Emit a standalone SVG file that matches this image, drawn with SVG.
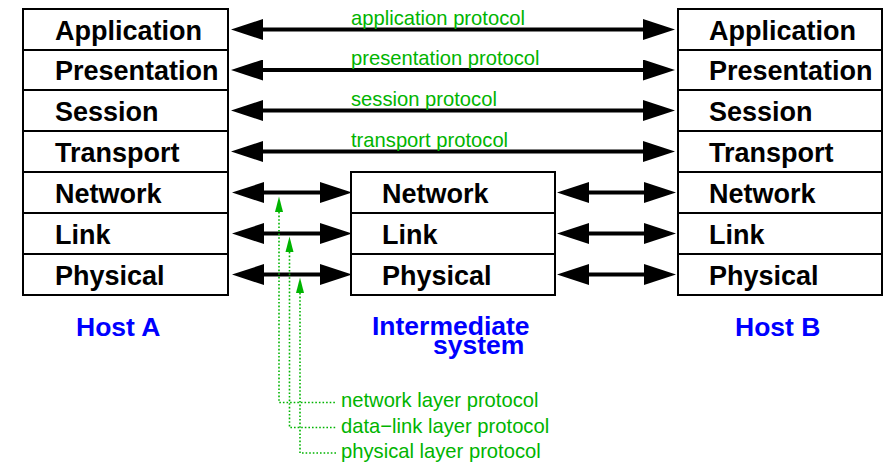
<svg xmlns="http://www.w3.org/2000/svg" width="888" height="464" viewBox="0 0 888 464">
<style>
.box{fill:#fff;stroke:#000;stroke-width:2}
.lbl{font-family:"Liberation Sans",Arial,sans-serif;font-weight:bold;font-size:27px;fill:#000}
.host{font-family:"Liberation Sans",Arial,sans-serif;font-weight:bold;font-size:26.5px;fill:#0000ff}
.g{font-family:"Liberation Sans",Arial,sans-serif;font-size:20.2px;fill:#00b400}
.arr{stroke:#000;stroke-width:4;fill:none;marker-start:url(#ah);marker-end:url(#ah)}
.dot{stroke:#00b400;stroke-width:1.6;fill:none;stroke-dasharray:1.6 2}
</style>
<defs>
<marker id="ah" markerUnits="userSpaceOnUse" markerWidth="32" markerHeight="21" viewBox="0 0 32 21" refX="12" refY="10.5" orient="auto-start-reverse">
<path d="M0,0 L32,10.5 L0,21 z" fill="#000"/>
</marker>
</defs>
<rect width="888" height="464" fill="#fff"/>

<g id="hostA">
<rect class="box" x="23" y="9" width="205" height="41"/>
<rect class="box" x="23" y="50" width="205" height="40"/>
<rect class="box" x="23" y="90" width="205" height="41"/>
<rect class="box" x="23" y="131" width="205" height="41"/>
<rect class="box" x="23" y="172" width="205" height="41"/>
<rect class="box" x="23" y="213" width="205" height="41"/>
<rect class="box" x="23" y="254" width="205" height="41"/>
<text class="lbl" x="55" y="39.5">Application</text>
<text class="lbl" x="55" y="80">Presentation</text>
<text class="lbl" x="55" y="120.5">Session</text>
<text class="lbl" x="55" y="161.5">Transport</text>
<text class="lbl" x="55" y="202.5">Network</text>
<text class="lbl" x="55" y="243.5">Link</text>
<text class="lbl" x="55" y="284.5">Physical</text>
<text class="host" x="76" y="335.5">Host A</text>
</g>

<g id="intermediate">
<rect class="box" x="351" y="172" width="204" height="41"/>
<rect class="box" x="351" y="213" width="204" height="41"/>
<rect class="box" x="351" y="254" width="204" height="41"/>
<text class="lbl" x="382" y="202.5">Network</text>
<text class="lbl" x="382" y="243.5">Link</text>
<text class="lbl" x="382" y="284.5">Physical</text>
<text class="host" x="372" y="335">Intermediate</text>
<text class="host" x="433" y="354">system</text>
</g>

<g id="hostB">
<rect class="box" x="678" y="9" width="204" height="41"/>
<rect class="box" x="678" y="50" width="204" height="40"/>
<rect class="box" x="678" y="90" width="204" height="41"/>
<rect class="box" x="678" y="131" width="204" height="41"/>
<rect class="box" x="678" y="172" width="204" height="41"/>
<rect class="box" x="678" y="213" width="204" height="41"/>
<rect class="box" x="678" y="254" width="204" height="41"/>
<text class="lbl" x="709" y="39.5">Application</text>
<text class="lbl" x="709" y="80">Presentation</text>
<text class="lbl" x="709" y="120.5">Session</text>
<text class="lbl" x="709" y="161.5">Transport</text>
<text class="lbl" x="709" y="202.5">Network</text>
<text class="lbl" x="709" y="243.5">Link</text>
<text class="lbl" x="709" y="284.5">Physical</text>
<text class="host" x="735" y="335.5">Host B</text>
</g>

<g id="connectors">
<line class="arr" x1="251" y1="29.5" x2="655" y2="29.5"/>
<line class="arr" x1="251" y1="70" x2="655" y2="70"/>
<line class="arr" x1="251" y1="110.5" x2="655" y2="110.5"/>
<line class="arr" x1="251" y1="151.5" x2="655" y2="151.5"/>
<line class="arr" x1="252" y1="192.5" x2="332" y2="192.5"/>
<line class="arr" x1="252" y1="233.5" x2="332" y2="233.5"/>
<line class="arr" x1="252" y1="274.5" x2="332" y2="274.5"/>
<line class="arr" x1="577" y1="192.5" x2="656" y2="192.5"/>
<line class="arr" x1="577" y1="233.5" x2="656" y2="233.5"/>
<line class="arr" x1="577" y1="274.5" x2="656" y2="274.5"/>

<path class="dot" d="M279,212 V402.5 H336"/>
<path class="dot" d="M289.5,252 V427.5 H336"/>
<path class="dot" d="M300,293 V453 H336"/>
<path d="M279,196.5 L283,212 L275,212 z" fill="#00b400"/>
<path d="M289.5,236.5 L293.5,252 L285.5,252 z" fill="#00b400"/>
<path d="M300,277.5 L304,293 L296,293 z" fill="#00b400"/>
</g>

<g id="labels">
<text class="g" x="351" y="24.5">application protocol</text>
<text class="g" x="351" y="65">presentation protocol</text>
<text class="g" x="351" y="105.5">session protocol</text>
<text class="g" x="351" y="146.5">transport protocol</text>
<text class="g" x="341" y="407">network layer protocol</text>
<text class="g" x="341" y="432.5">data−link layer protocol</text>
<text class="g" x="341" y="457.5">physical layer protocol</text>
</g>
</svg>
